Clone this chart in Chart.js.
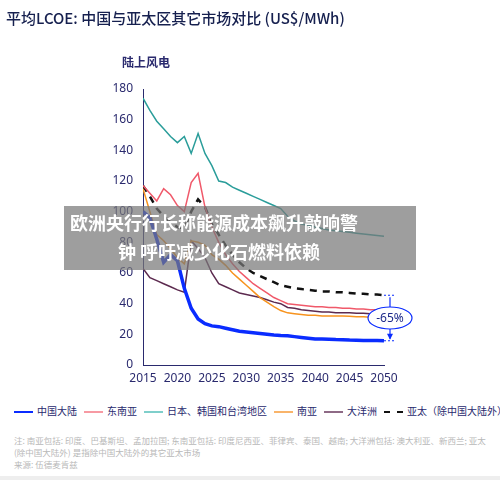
<!DOCTYPE html>
<html><head><meta charset="utf-8">
<script src="https://cdn.jsdelivr.net/npm/chart.js@4"></script>
<style>
body{margin:0;width:500px;height:480px;background:#fff;font-family:"Noto Sans CJK SC","Noto Sans",sans-serif;overflow:hidden;position:relative}
#wrap{position:absolute;left:0;top:0;width:500px;height:395px}
#legend{position:absolute;left:14px;top:403px;font-size:10px;color:#2a2a6e;white-space:nowrap}
#legend span{display:inline-block;margin-right:7px}
#legend i{display:inline-block;width:19px;height:0;border-top:2px solid;vertical-align:middle;margin-right:4px}
#notes{position:absolute;left:14px;top:434px;font-size:8.5px;color:#b8b8b8;line-height:12px;width:480px}
#bottom{position:absolute;left:0;top:476px;width:500px;height:4px;background:#eee}
</style></head><body>
<div id="wrap"><canvas id="c"></canvas></div>
<div id="legend"></div>
<div id="notes">注: 南亚包括: 印度、巴基斯坦、孟加拉国; 东南亚包括: 印度尼西亚、菲律宾、泰国、越南; 大洋洲包括: 澳大利亚、新西兰; 亚太 (除中国大陆外) 是指除中国大陆外的其它亚太市场<br>来源: 伍德麦肯兹</div>
<div id="bottom"></div>
<script>
const years = [];
for (let y = 2015; y <= 2050; y++) years.push(y);
const xTicks = [2015, 2020, 2025, 2030, 2035, 2040, 2045, 2050];
const yTicks = [0, 20, 40, 60, 80, 100, 120, 140, 160, 180];
const seriesNames = ['中国大陆', '东南亚', '日本、韩国和台湾地区', '南亚', '大洋洲', '亚太（除中国大陆外）'];
const china = [100,96,82,67,72,68,50,37,30,27,25.5,25,24,23,22,21.5,21,20.5,20,19.5,19.2,19,18.5,18,17.5,17,17,16.8,16.6,16.5,16.3,16.2,16,16,16,15.8];
const seAsia = [117,112,107,115,111,104,100,119,125,103,90,80,72,66,61,57,53,50,47,44,42,40,39.5,39,38.5,38,38,37.5,37.5,37,37,36.5,36.5,36,36,36];
const japanKorTw = [174,166,159,154,149,145,149,138,151,138,130,120,119,116,114,112,110,108,106,104,102,97,94,92,91,90,89,88,87.5,87,86.5,86,85.5,85,84.5,84];
const southAsia = [115,100,85,81,76,70,66,81,80,78,72,69,65,60,56,52,48,44,41,38,35.5,34,33.5,33,32.5,32.5,32,32,32,32,31.8,31.5,31.5,31.2,31,31];
const oceania = [63,57,55,53,51,49,47.5,81,76,70,60,53,51,49,47,46,45,44,42.5,41,40,37.5,37,36,35.5,35,34.5,34.5,34,34,34,33.8,33.7,33.5,33.5,33.5];
const apacExChina = [117,110,102,97,93,90,89,100,108,103,92,85,78,72,67,63,60,58,56,54,52,51,50,49.5,49,48.5,48,48,47.5,47.5,47,46.5,46.5,46,46,45.5];

const colors = ['#0a2cff', '#f0596a', '#2a9d9a', '#f7931e', '#5c2a4f', '#111111'];
const legendColors = ['#0a2cff', '#f79aa3', '#7fcfcb', '#f9b46a', '#8e6a86', '#111111'];
const allData = [china, seAsia, japanKorTw, southAsia, oceania, apacExChina];
const widths = [3.5, 1.5, 1.5, 1.5, 1.5, 2.5];

const datasets = allData.map((d, i) => ({
  label: seriesNames[i],
  data: d.map((v, k) => ({ x: years[k], y: v })),
  borderColor: colors[i],
  borderWidth: widths[i],
  borderDash: i === 5 ? [7, 6] : [],
  pointRadius: 0,
  tension: 0,
  order: i === 0 ? 0 : 1
}));

document.getElementById('legend').innerHTML = seriesNames.map((n, i) =>
  `<span><i style="border-color:${legendColors[i]};${i===5?'border-top-style:dashed;':''}"></i>${n}</span>`).join('');

const deco = {
  id: 'deco',
  afterDraw(chart) {
    const ctx = chart.ctx, xs = chart.scales.x, ys = chart.scales.y;
    ctx.save();
    ctx.fillStyle = '#16204f';
    ctx.font = '500 15px "Noto Sans CJK SC"';
    ctx.textBaseline = 'middle';
    ctx.fillText('平均LCOE: 中国与亚太区其它市场对比 (US$/MWh)', 6, 18);
    ctx.font = 'bold 12px "Noto Sans CJK SC"';
    ctx.fillStyle = '#2a2a6e';
    ctx.textAlign = 'center';
    ctx.fillText('陆上风电', 146, 62);
    // annotation
    const ax = xs.getPixelForValue(2050) + 6;
    const yTop = ys.getPixelForValue(45.5), yBot = ys.getPixelForValue(15.8);
    ctx.strokeStyle = '#0a2cff'; ctx.lineWidth = 1.2;
    ctx.setLineDash([2, 2]);
    ctx.beginPath(); ctx.moveTo(ax - 6, yTop); ctx.lineTo(ax + 6, yTop); ctx.moveTo(ax - 6, yBot); ctx.lineTo(ax + 6, yBot); ctx.stroke();
    ctx.setLineDash([]);
    ctx.beginPath(); ctx.moveTo(ax, yTop + 2); ctx.lineTo(ax, yBot - 2); ctx.stroke();
    ctx.fillStyle = '#0a2cff';
    ctx.beginPath(); ctx.moveTo(ax - 3, yBot - 7); ctx.lineTo(ax + 3, yBot - 7); ctx.lineTo(ax, yBot - 1); ctx.fill();
    const cy = (yTop + yBot) / 2;
    ctx.fillStyle = '#fff';
    ctx.beginPath(); ctx.ellipse(ax, cy, 22, 11, 0, 0, Math.PI * 2); ctx.fill(); ctx.stroke();
    ctx.fillStyle = '#1e2a8a';
    ctx.font = '12px "Noto Sans"';
    ctx.fillText('-65%', ax, cy + 1);
    // overlay band
    ctx.fillStyle = 'rgba(120,120,120,0.72)';
    ctx.fillRect(64, 206, 352, 64);
    ctx.fillStyle = '#fff';
    ctx.textAlign = 'left';
    ctx.font = 'bold 18px "Noto Sans CJK SC"';
    ctx.fillText('欧洲央行行长称能源成本飙升敲响警', 70, 223);
    ctx.fillText('钟 呼吁减少化石燃料依赖', 118, 252);
    ctx.restore();
  }
};

new Chart(document.getElementById('c'), {
  type: 'line',
  data: { datasets },
  options: {
    responsive: true, maintainAspectRatio: false, animation: false,
    layout: { padding: { left: 0, top: 89, right: 116, bottom: 0 } },
    plugins: { legend: { display: false }, tooltip: { enabled: false } },
    scales: {
      x: {
        type: 'linear', min: 2015, max: 2050,
        afterBuildTicks: s => { s.ticks = xTicks.map(v => ({ value: v })); },
        grid: { display: false, tickLength: 4 },
        border: { color: '#2a2a6e', width: 1 },
        ticks: { color: '#2a2a6e', font: { size: 12, family: 'Noto Sans' }, maxRotation: 0, padding: 2, callback: v => String(v) },
        afterFit: s => { s.height = 30; }
      },
      y: {
        min: 0, max: 180,
        afterBuildTicks: s => { s.ticks = yTicks.map(v => ({ value: v })); },
        grid: { display: false, tickLength: 4 },
        border: { color: '#2a2a6e', width: 1 },
        ticks: { color: '#2a2a6e', font: { size: 12, family: 'Noto Sans' }, padding: 6 },
        afterFit: s => { s.width = 143; }
      }
    }
  },
  plugins: [deco]
});
</script>
</body></html>
